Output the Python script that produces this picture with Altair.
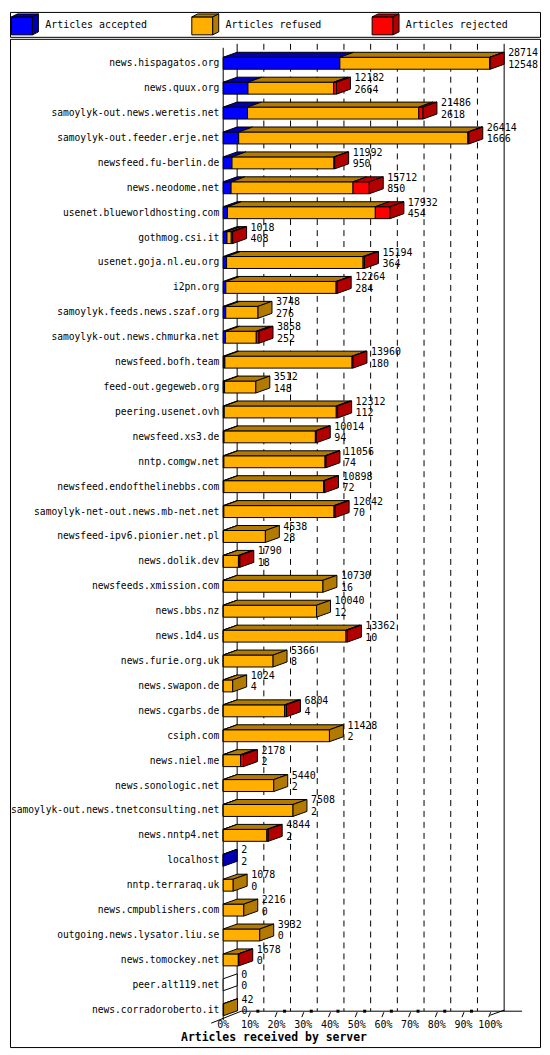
import altair as alt
import pandas as pd

# ---------------- data ----------------
SERVERS = [
    "news.hispagatos.org", "news.quux.org", "samoylyk-out.news.weretis.net",
    "samoylyk-out.feeder.erje.net", "newsfeed.fu-berlin.de", "news.neodome.net",
    "usenet.blueworldhosting.com", "gothmog.csi.it", "usenet.goja.nl.eu.org",
    "i2pn.org", "samoylyk.feeds.news.szaf.org", "samoylyk-out.news.chmurka.net",
    "newsfeed.bofh.team", "feed-out.gegeweb.org", "peering.usenet.ovh",
    "newsfeed.xs3.de", "nntp.comgw.net", "newsfeed.endofthelinebbs.com",
    "samoylyk-net-out.news.mb-net.net", "newsfeed-ipv6.pionier.net.pl",
    "news.dolik.dev", "newsfeeds.xmission.com", "news.bbs.nz", "news.1d4.us",
    "news.furie.org.uk", "news.swapon.de", "news.cgarbs.de", "csiph.com",
    "news.niel.me", "news.sonologic.net", "samoylyk-out.news.tnetconsulting.net",
    "news.nntp4.net", "localhost", "nntp.terraraq.uk", "news.cmpublishers.com",
    "outgoing.news.lysator.liu.se", "news.tomockey.net", "peer.alt119.net",
    "news.corradoroberto.it",
]
ACCEPTED = [12548, 2664, 2618, 1666, 950, 850, 454, 408, 364, 284, 276, 252, 180,
            148, 112, 94, 74, 72, 70, 28, 18, 16, 12, 10, 8, 4, 4, 2, 2, 2, 2, 2,
            2, 0, 0, 0, 0, 0, 0]
REFUSED = [16106, 9218, 18418, 24648, 10962, 13112, 15908, 460, 14680, 11860, 3472,
           3306, 13680, 3364, 12050, 9820, 10882, 10726, 11852, 4510, 1622, 10714,
           10028, 13202, 5358, 1020, 6600, 11426, 1876, 5438, 7506, 4692, 0, 1078,
           2216, 3932, 1628, 0, 42]
REJECTED = [60, 300, 450, 100, 80, 1750, 1570, 150, 150, 120, 0, 300, 100, 0, 150,
            100, 100, 100, 120, 0, 150, 0, 0, 150, 0, 0, 200, 0, 300, 0, 0, 150, 0,
            0, 0, 0, 50, 0, 0]
SERIES = ["Articles accepted", "Articles refused", "Articles rejected"]
KEYS = ["accepted", "refused", "rejected"]
TICKS = [0, 10, 20, 30, 40, 50, 60, 70, 80, 90, 100]
X_TITLE = "Articles received by server"

FILL_KEYS = ["accepted", "refused", "rejected", "accepted_d", "refused_d", "rejected_d", "none"]
FILL_COLORS = ["#0000FF", "#FFAF00", "#FF0000", "#0000B2", "#B27A00", "#B20000", "#FFFFFF"]
FONT = "DejaVu Sans Mono"

TOTAL = [a + r + j for a, r, j in zip(ACCEPTED, REFUSED, REJECTED)]
MAX = max(TOTAL)

# ---------------- geometry (pixels in the views) ----------------
W = 532
LEG_H = 25
MAIN_H = 1012
X0_PX, X1_PX = 214, 482          # front face 0 .. max
DX_PX, DY_PX = 14, 5             # 3-D depth
ROW_PX = 25
Y0_PX = 24.5
N = len(SERVERS)
PX = MAX / (X1_PX - X0_PX)        # data units per pixel
DXU = DX_PX * PX
DYU = DY_PX / ROW_PX
HALF = 6 / ROW_PX


def rows_of(v):
    """main-view pixel y -> row units"""
    return (v - Y0_PX) / ROW_PX


xs = alt.Scale(domain=[0, MAX], range=[X0_PX, X1_PX], nice=False, zero=False)
ys = alt.Scale(domain=[0, N - 1], range=[Y0_PX, Y0_PX + ROW_PX * (N - 1)], nice=False, zero=False)
fill_scale = alt.Scale(domain=FILL_KEYS, range=FILL_COLORS)

# ---------------- build face tables ----------------
fronts, tops, sides = [], [], []
for i in range(N):
    vals = [ACCEPTED[i], REFUSED[i], REJECTED[i]]
    start = 0
    last = "none"
    for k, v in zip(KEYS, vals):
        if v > 0:
            end = start + v
            fronts.append(dict(x=start, x2=end, y=i - HALF, y2=i + HALF, key=k))
            fid = f"{i}-{k}"
            tops.append(dict(fid=fid, key=k + "_d", y=i - HALF, x=start, x2=end))
            tops.append(dict(fid=fid, key=k + "_d", y=i - HALF - DYU, x=start + DXU, x2=end + DXU))
            last = k + "_d"
            start = end
    fid = f"{i}-side"
    sides.append(dict(fid=fid, key=last, x=start, y=i - HALF, y2=i + HALF))
    sides.append(dict(fid=fid, key=last, x=start + DXU, y=i - HALF - DYU, y2=i + HALF - DYU))

df_front = pd.DataFrame(fronts)
df_top = pd.DataFrame(tops)
df_side = pd.DataFrame(sides)
df_lab = pd.DataFrame(dict(name=SERVERS, row=list(range(N)), total=TOTAL,
                           accepted=ACCEPTED, xl=[t + DXU for t in TOTAL]))

y_top = rows_of(5)
y_floor = rows_of(976)
df_grid = pd.DataFrame(dict(x=[t / 100 * MAX + DXU for t in TICKS[1:-1]], y=y_top, y2=y_floor))
df_solid = pd.DataFrame([
    dict(x=DXU, x2=DXU, y=y_top, y2=y_floor),                                # back-left wall
    dict(x=MAX + DXU, x2=MAX + DXU, y=y_top, y2=y_floor),                    # back-right wall
    dict(x=0, x2=0, y=rows_of(9), y2=rows_of(985)),                          # front-left axis
    dict(x=18 * PX, x2=MAX + (DX_PX + 18) * PX, y=y_floor, y2=y_floor),      # floor
    dict(x=-12 * PX, x2=18 * PX, y=rows_of(988), y2=y_floor),                # floor left edge
    dict(x=MAX, x2=MAX + DXU, y=rows_of(980), y2=rows_of(975)),              # floor right edge
])
df_ticks = pd.DataFrame(dict(
    pct=TICKS,
    lab=[f"{t}%" for t in TICKS],
    xf=[t / 100 * MAX for t in TICKS],
))
df_tk = df_ticks[df_ticks.pct > 0].copy()
df_tk["xa"] = df_tk.xf + 0.5 * PX
df_tk["xb"] = df_tk.xf - 1.5 * PX
df_tk["ya"] = rows_of(977)
df_tk["yb"] = rows_of(982)
df_sq = df_ticks[(df_ticks.pct > 0) & (df_ticks.pct < 100)].copy()
df_sq["xs"] = df_sq.xf + 8 * PX
df_sq["ys"] = rows_of(976)
df_ticks["yl"] = rows_of(990)

# ---------------- main view layers ----------------
grid = alt.Chart(df_grid).mark_rule(color="black", strokeWidth=1, strokeDash=[6, 5]).encode(
    x=alt.X("x:Q", scale=xs, axis=None), y=alt.Y("y:Q", scale=ys, axis=None), y2="y2:Q")
solid = alt.Chart(df_solid).mark_rule(color="black", strokeWidth=1).encode(
    x=alt.X("x:Q", scale=xs, axis=None), x2="x2:Q",
    y=alt.Y("y:Q", scale=ys, axis=None), y2="y2:Q")
ticks = alt.Chart(df_tk).mark_rule(color="black", strokeWidth=1).encode(
    x=alt.X("xa:Q", scale=xs, axis=None), x2="xb:Q",
    y=alt.Y("ya:Q", scale=ys, axis=None), y2="yb:Q")
squares = alt.Chart(df_sq).mark_point(shape="square", filled=True, color="black", size=9, opacity=1).encode(
    x=alt.X("xs:Q", scale=xs, axis=None), y=alt.Y("ys:Q", scale=ys, axis=None))
tick_lab = alt.Chart(df_ticks).mark_text(font=FONT, fontSize=10, align="center", baseline="middle", color="black").encode(
    x=alt.X("xf:Q", scale=xs, axis=None), y=alt.Y("yl:Q", scale=ys, axis=None), text="lab:N")

front = alt.Chart(df_front).mark_rect(stroke="black", strokeWidth=1).encode(
    x=alt.X("x:Q", scale=xs, axis=None), x2="x2:Q",
    y=alt.Y("y:Q", scale=ys, axis=None), y2="y2:Q",
    fill=alt.Fill("key:N", scale=fill_scale, legend=None))
top = alt.Chart(df_top).mark_area(orient="horizontal", stroke="black", strokeWidth=1, opacity=1).encode(
    x=alt.X("x:Q", scale=xs, axis=None, stack=None), x2="x2:Q",
    y=alt.Y("y:Q", scale=ys, axis=None),
    detail="fid:N",
    fill=alt.Fill("key:N", scale=fill_scale, legend=None))
side = alt.Chart(df_side).mark_area(orient="vertical", stroke="black", strokeWidth=1, opacity=1).encode(
    x=alt.X("x:Q", scale=xs, axis=None),
    y=alt.Y("y:Q", scale=ys, axis=None, stack=None), y2="y2:Q",
    detail="fid:N",
    fill=alt.Fill("key:N", scale=fill_scale, legend=None))

names = alt.Chart(df_lab).mark_text(font=FONT, fontSize=9.65, align="right", baseline="middle", color="black").encode(
    x=alt.value(210), y=alt.Y("row:Q", scale=ys, axis=None), text="name:N")
tot_lab = alt.Chart(df_lab).mark_text(font=FONT, fontSize=10, align="left", baseline="middle", dx=4, dy=-10, color="black").encode(
    x=alt.X("xl:Q", scale=xs, axis=None), y=alt.Y("row:Q", scale=ys, axis=None), text="total:N")
acc_lab = alt.Chart(df_lab).mark_text(font=FONT, fontSize=10, align="left", baseline="middle", dx=4, dy=1.5, color="black").encode(
    x=alt.X("xl:Q", scale=xs, axis=None), y=alt.Y("row:Q", scale=ys, axis=None), text="accepted:N")
title = alt.Chart(pd.DataFrame(dict(t=[X_TITLE]))).mark_text(
    font=FONT, fontSize=11.5, fontWeight="bold", align="center", baseline="middle", color="black").encode(
    x=alt.value(265), y=alt.value(1003), text="t:N")

main = alt.layer(grid, solid, ticks, squares, tick_lab, front, top, side,
                 names, tot_lab, acc_lab, title).properties(width=W, height=MAIN_H)

# ---------------- legend view ----------------
df_leg = pd.DataFrame(dict(series=SERIES, key=KEYS, dark=[k + "_d" for k in KEYS]))
lx = alt.Scale(type="point", domain=SERIES, range=[15, 377], padding=0)
U = 12.0


def p(pts):
    return "M" + " L".join(f"{x / U:.3f},{y / U:.3f}" for x, y in pts) + " Z"


FRONT_PATH = p([(-13.5, -7.5), (7.5, -7.5), (7.5, 10.5), (-13.5, 10.5)])
TOP_PATH = p([(-13.5, -7.5), (7.5, -7.5), (13.5, -10.5), (-7.5, -10.5)])
SIDE_PATH = p([(7.5, -7.5), (13.5, -10.5), (13.5, 7.5), (7.5, 10.5)])


def cube(path, field):
    return alt.Chart(df_leg).mark_point(shape=path, size=(2 * U) ** 2, filled=True, opacity=1,
                                        stroke="black", strokeWidth=1).encode(
        x=alt.X("series:N", scale=lx, axis=None), y=alt.value(12.5),
        fill=alt.Fill(f"{field}:N", scale=fill_scale, legend=None))


leg_text = alt.Chart(df_leg).mark_text(font=FONT, fontSize=10, align="left", baseline="middle", dx=20.3, color="black").encode(
    x=alt.X("series:N", scale=lx, axis=None), y=alt.value(13.5), text="series:N")
legend = alt.layer(cube(FRONT_PATH, "key"), cube(TOP_PATH, "dark"), cube(SIDE_PATH, "dark"),
                   leg_text).properties(width=W, height=LEG_H)

chart = alt.vconcat(legend, main, spacing=0).properties(
    padding={"left": 1, "top": 1, "right": 1, "bottom": 1},
    background="white",
).configure_view(stroke="black", strokeWidth=1)

chart.save("out.html", embed_options={"renderer": "svg", "actions": False})
